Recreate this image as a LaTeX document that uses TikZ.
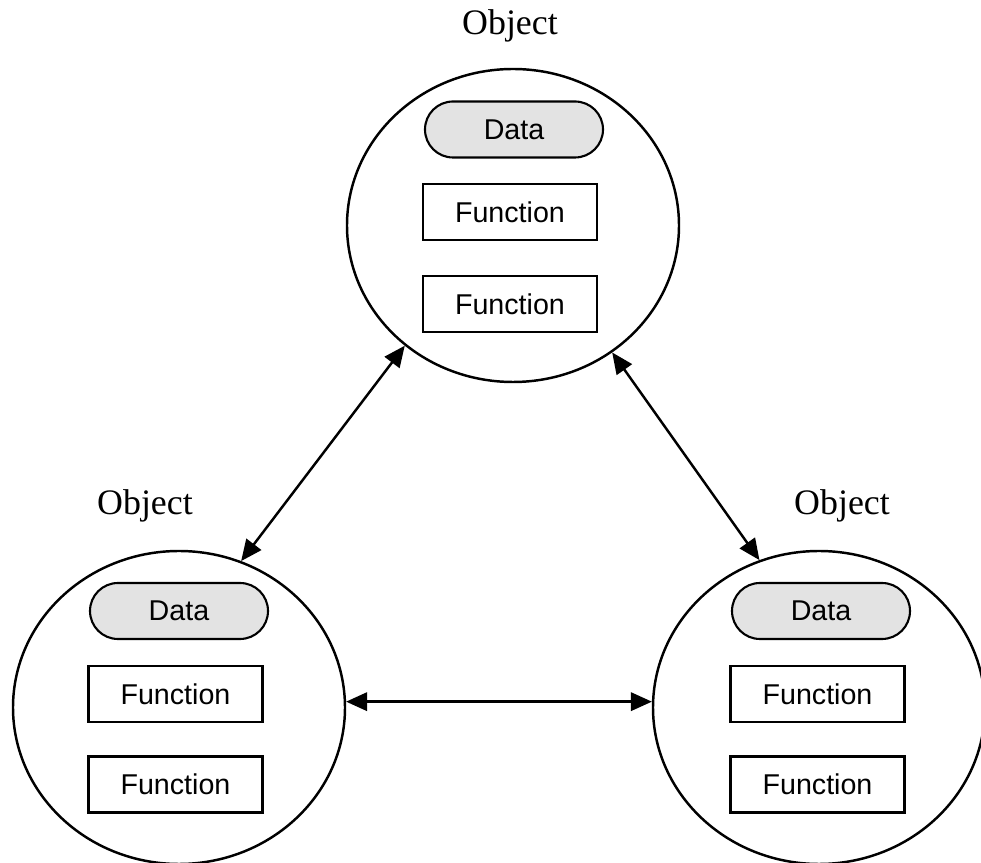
\documentclass[tikz,border=0pt]{standalone}
\usepackage{fontspec}
\setmainfont{Liberation Sans}
\newfontfamily\objfont{Liberation Serif}
\usetikzlibrary{shapes.geometric,arrows.meta}

\begin{document}
\begin{tikzpicture}[
  object/.style={ellipse,draw,line width=1.4pt,minimum width=6.64cm,
                 minimum height=6.26cm,inner sep=0pt},
  objlabel/.style={font=\objfont\fontsize{20.4}{24}\selectfont,anchor=base},
  datapill/.style={draw,line width=1.2pt,fill=black!11,rounded corners=0.56cm,
                   minimum width=3.56cm,minimum height=1.12cm,inner sep=0pt,
                   font=\fontsize{16.3}{19}\selectfont},
  funcbox/.style={draw,line width=1.2pt,minimum width=3.48cm,
                  minimum height=1.12cm,inner sep=0pt,
                  font=\fontsize{16.3}{19}\selectfont},
  link/.style={line width=1.4pt,{Triangle[length=12pt,width=10.5pt]}-{Triangle[length=12pt,width=10.5pt]}},
]
\useasboundingbox (0,0) rectangle (19.62,17.26);

% Top object
\node[objlabel] (toplabel) at (10.2,16.56) {Object};
\node[object] (topobj) at (10.26,12.75) {};
\node[datapill] (topdata) at (10.28,14.67) {Data};
\node[funcbox] (topfunca) at (10.2,13.02) {Function};
\node[funcbox] (topfuncb) at (10.2,11.18) {Function};

% Left object
\node[objlabel] (leftlabel) at (2.9,6.96) {Object};
\node[object] (leftobj) at (3.58,3.11) {};
\node[datapill] (leftdata) at (3.58,5.04) {Data};
\node[funcbox] (leftfunca) at (3.51,3.38) {Function};
\node[funcbox] (leftfuncb) at (3.51,1.57) {Function};

% Right object
\node[objlabel] (rightlabel) at (16.84,6.96) {Object};
\node[object] (rightobj) at (16.38,3.11) {};
\node[datapill] (rightdata) at (16.42,5.04) {Data};
\node[funcbox] (rightfunca) at (16.35,3.38) {Function};
\node[funcbox] (rightfuncb) at (16.35,1.57) {Function};

% Messages between objects
\draw[link] (topobj.228) -- (leftobj.67);
\draw[link] (topobj.308) -- (rightobj.112);
\draw[link] (leftobj.2) -- (rightobj.178);

\end{tikzpicture}
\end{document}
